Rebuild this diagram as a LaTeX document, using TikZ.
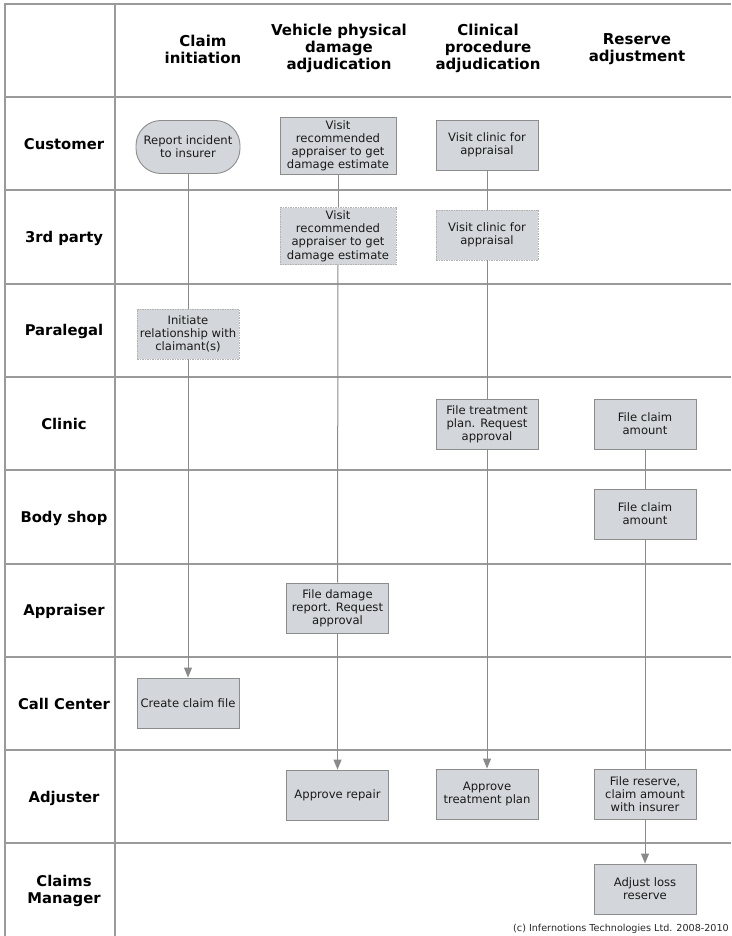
\documentclass[tikz,border=0pt]{standalone}
\usepackage{fontspec}
\setmainfont{DejaVu Sans}
\usetikzlibrary{arrows.meta}
\definecolor{gridc}{HTML}{9A9A9A}
\definecolor{boxfill}{HTML}{D3D7DB}
\definecolor{boxline}{HTML}{8C8C8C}
\definecolor{linec}{HTML}{8A8A8A}
\tikzset{
  gridline/.style={draw=gridc, line width=1.2pt},
  hdr/.style={font=\fontsize{15}{17}\selectfont\bfseries, align=center, text=black},
  lane/.style={font=\fontsize{14.8}{17}\selectfont\bfseries, align=center, text=black},
  task/.style={draw=boxline, fill=boxfill, line width=0.9pt, minimum width=102pt, minimum height=50pt,
    inner sep=0pt, align=center, font=\fontsize{11.6}{13.2}\selectfont, text=black!90},
  bigtask/.style={task, minimum width=116pt, minimum height=57pt},
  dashtask/.style={draw=gray!60, dash pattern=on 1.5pt off 1pt},
  term/.style={task, rounded corners=25pt, minimum width=104pt, minimum height=53pt},
  conn/.style={draw=linec, line width=1pt},
  arr/.style={conn, -{Triangle[width=8pt,length=10pt]}, color=linec},
}
\begin{document}
\begin{tikzpicture}[x=1pt,y=-1pt]
\useasboundingbox (0,0) rectangle (731,936);
% grid
\draw[gridline] (731,4) -- (5,4) -- (5,936);
\draw[gridline] (115,4) -- (115,936);
\foreach \yy in {97,190,284,377,470,564,657,750,843} {
  \draw[gridline] (5,\yy) -- (731,\yy);
}
% column headers
\node[hdr] (h1) at (203,49) {Claim\\initiation};
\node[hdr] (h2) at (339,48) {Vehicle physical\\damage\\adjudication};
\node[hdr] (h3) at (488,48) {Clinical\\procedure\\adjudication};
\node[hdr] (h4) at (637,49) {Reserve\\adjustment};
% lane labels
\node[lane] (l1) at (64,144) {Customer};
\node[lane] (l2) at (64,238) {3rd party};
\node[lane] (l3) at (64,331) {Paralegal};
\node[lane] (l4) at (64,424) {Clinic};
\node[lane] (l5) at (64,518) {Body shop};
\node[lane] (l6) at (64,611) {Appraiser};
\node[lane] (l7) at (64,704) {Call Center};
\node[lane] (l8) at (64,798) {Adjuster};
\node[lane] (l9) at (64,891) {Claims\\Manager};
% tasks
\node[term] (rep) at (188,147) {Report incident\\to insurer};
\node[bigtask] (vr1) at (338,146) {Visit\\recommended\\appraiser to get\\damage estimate};
\node[task] (vc1) at (487,145) {Visit clinic for\\appraisal};
\node[bigtask, dashtask] (vr2) at (338,236) {Visit\\recommended\\appraiser to get\\damage estimate};
\node[task, dashtask] (vc2) at (487,235) {Visit clinic for\\appraisal};
\node[task, dashtask] (init) at (188,334) {Initiate\\relationship with\\claimant(s)};
\node[task] (ftp) at (487,424) {File treatment\\plan. Request\\approval};
\node[task] (fca1) at (645,424) {File claim\\amount};
\node[task] (fca2) at (645,514) {File claim\\amount};
\node[task] (fdr) at (337.5,608) {File damage\\report. Request\\approval};
\node[task] (ccf) at (188,703) {Create claim file};
\node[task] (ar) at (337.5,795) {Approve repair};
\node[task] (atp) at (487,794) {Approve\\treatment plan};
\node[task] (fr) at (645,794) {File reserve,\\claim amount\\with insurer};
\node[task] (alr) at (645,889) {Adjust loss\\reserve};
% connectors
\draw[conn] (rep) -- (init);
\draw[arr] (init) -- (ccf);
\draw[conn] (vr1) -- (vr2);
\draw[conn] (vr2) -- (fdr);
\draw[arr] (fdr) -- (ar);
\draw[conn] (vc1) -- (vc2);
\draw[conn] (vc2) -- (ftp);
\draw[arr] (ftp) -- (atp);
\draw[conn] (fca1) -- (fca2);
\draw[conn] (fca2) -- (fr);
\draw[arr] (fr) -- (alr);
% footer
\node[anchor=base east, font=\fontsize{9.6}{11}\selectfont, text=black!85, inner sep=0pt] (copy) at (729,931) {(c) Infernotions Technologies Ltd. 2008-2010};
\end{tikzpicture}
\end{document}
